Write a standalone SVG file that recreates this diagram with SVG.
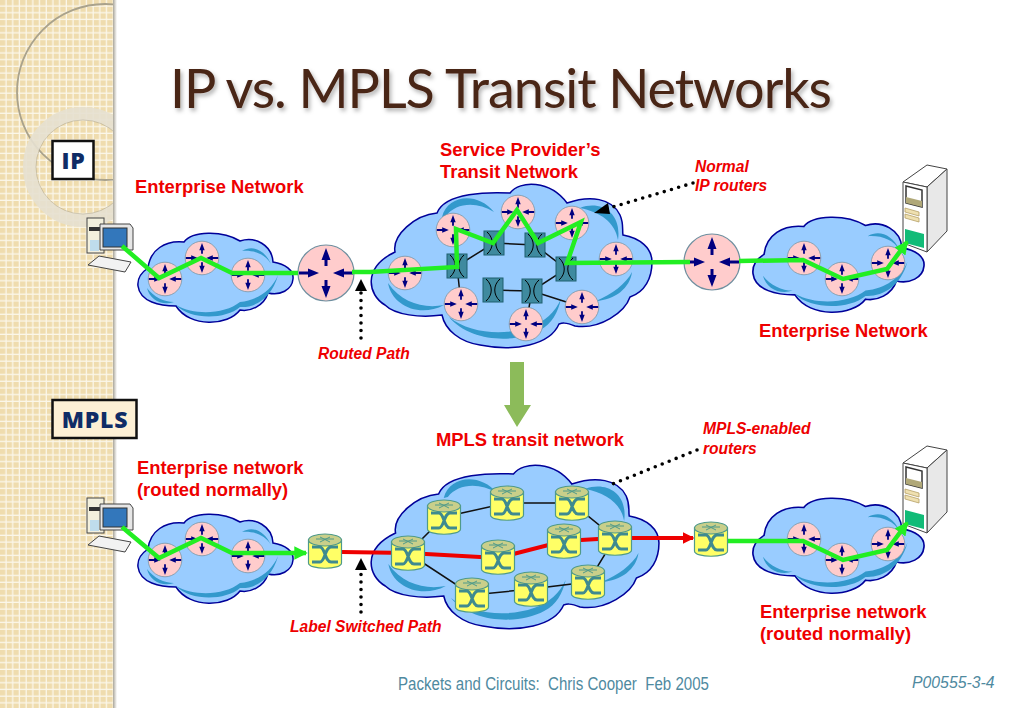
<svg xmlns="http://www.w3.org/2000/svg" width="1023" height="708" viewBox="0 0 1023 708">
<style>
.lab{font-family:"Liberation Sans",Arial,sans-serif;font-weight:bold;fill:#ee0000;font-size:18.4px}
.note{font-family:"Liberation Sans",Arial,sans-serif;font-weight:bold;font-style:italic;fill:#ee0000;font-size:15.6px}
.tag{font-family:"Open Sans",sans-serif;font-weight:800;fill:#0f2c66;font-size:23px;text-anchor:middle;letter-spacing:.8px}
.cloud{fill:#99ccff;stroke:#000099;stroke-width:1.5}
.sw{fill:#3399cc;stroke:none}
.lnk{fill:none;stroke:#111;stroke-width:1.5}
.grn{fill:none;stroke:#22ee22;stroke-width:4.5;stroke-linejoin:miter}
.red{fill:none;stroke:#ee0000;stroke-width:4}
.dot{fill:none;stroke:#000;stroke-width:3.600;stroke-dasharray:0 7.500;stroke-linecap:round}
</style>
<defs>
<pattern id="grid" width="6.7" height="6.7" patternUnits="userSpaceOnUse">
<rect width="6.7" height="6.7" fill="#fbf7ea"/><rect width="5.4" height="5.4" fill="#efdcae"/>
</pattern>
<linearGradient id="edge"><stop offset="0" stop-color="#aaa69a"/><stop offset="1" stop-color="#fff"/></linearGradient>
<clipPath id="pane"><rect width="113" height="708"/></clipPath>
<filter id="sh" x="-5%" y="-20%" width="110%" height="150%"><feDropShadow dx="2" dy="3" stdDeviation="2" flood-color="#000" flood-opacity=".3"/></filter>
<marker id="ga" markerWidth="4" markerHeight="4" refX="2.6" refY="1.500" orient="auto" markerUnits="strokeWidth"><path d="M0,0L3,1.500L0,3Z" fill="#22ee22"/></marker>
<marker id="ra" markerWidth="4" markerHeight="4" refX="2.6" refY="1.500" orient="auto" markerUnits="strokeWidth"><path d="M0,0L3,1.500L0,3Z" fill="#ee0000"/></marker>
<g id="rt">
<circle r="28" fill="#ffcccc" stroke="#6f8f9f" stroke-width="1.2"/>
<g fill="#000080" stroke="#000080">
<path d="M-27,0H-14M27,0H14M0,-7V-19M0,7V19" stroke-width="3" fill="none"/>
<path d="M-7,0L-18,-4.5V4.5ZM7,0L18,-4.5V4.5ZM0,-25L-4.5,-13H4.5ZM0,25L-4.5,13H4.5Z" stroke="none"/>
</g>
</g>
<g id="sq">
<rect x="-10" y="-12" width="20" height="24" fill="#3f8a9f" stroke="#1f5f6f"/>
<path d="M-7,-11C0,-5 0,5 -7,11M7,-11C0,-5 0,5 7,11" fill="none" stroke="#000" stroke-width="1"/>
</g>
<g id="cy">
<path d="M-16.500,-11V12C-16.500,19 16.500,19 16.500,12V-11Z" fill="#ffff66" stroke="#4f9a8a" stroke-width="1.2"/>
<ellipse cy="-11" rx="16.500" ry="6" fill="#c9cf8a" stroke="#4f9a8a" stroke-width="1.2"/>
<path d="M-9,-12H9M-5,-9L5,-14M-5,-14L5,-9" stroke="#4f9a8a" fill="none"/>
<path d="M-13,-4H-5C0,-4 0,11 6,11H13M-13,11H-5C0,11 0,-4 6,-4H13" stroke="#3f8a8f" stroke-width="3" fill="none"/>
</g>
<g id="smallcloud">
<path class="cloud" d="M148,268C150,250 165,240 184,242C192,231 222,230 240,241C255,236 272,245 273,262C285,264 294,270 293,279C292,290 280,296 268,293C264,306 250,312 240,310C228,326 190,328 176,306C160,306 140,302 138,286C137,277 142,272 148,268Z"/>
<path class="sw" d="M147,288C150,300 162,306 174,302C164,302 154,297 147,288ZM176,305C190,320 225,320 240,307C255,308 272,298 278,275C272,290 258,300 240,302C225,314 195,316 176,305ZM242,251C252,245 264,249 271,264C265,254 254,250 242,251Z"/>
</g>
<g id="bigcloud">
<path class="cloud" d="M395,252C392,235 415,215 437,213C445,192 490,192 510,193C520,180 550,180 567,203C590,195 612,198 620,215C624,224 622,230 623,235C640,238 652,248 652,262C652,278 645,292 630,297C625,312 600,330 575,326C565,322 562,323 559,324C550,345 515,352 480,345C460,342 445,330 442,315C420,318 395,315 385,305C368,295 362,268 395,252Z"/>
<path class="sw" d="M442,217C448,194 478,192 494,212C476,201 456,203 446,216ZM388,283C392,306 420,318 444,305C424,309 402,303 388,283ZM449,317C470,342 515,344 540,330C552,324 558,312 561,299C555,312 545,322 530,327C505,336 470,334 449,317ZM596,301C615,300 630,288 632,272C626,284 612,294 596,301ZM580,208C600,200 622,212 618,240C615,222 600,212 580,208Z"/>
</g>
<g id="pc">
<rect x="87" y="218" width="17" height="35" fill="#f3f0dd" stroke="#444"/>
<rect x="89" y="227" width="12" height="4" fill="#333"/>
<rect x="90" y="240" width="9" height="11" fill="#bfdcec"/>
<path d="M100,224H130L133,228V250H100Z" fill="#e6e6e6" stroke="#444"/>
<rect x="103" y="228" width="24" height="19" fill="#3377bb" stroke="#333"/>
<path d="M88,265L99,256L131,262L125,272Z" fill="#f2f2f2" stroke="#444"/>
</g>
<g id="srv">
<path d="M903,182L927,165L947,169L927,187Z" fill="#fff" stroke="#444"/>
<path d="M927,187L947,169V231L927,252Z" fill="#e8e8e8" stroke="#444"/>
<path d="M903,182L927,187V252L903,243Z" fill="#fff" stroke="#444"/>
<path d="M906,186L922,190V207L906,203Z" fill="#fff" stroke="#333" stroke-width="1.5"/>
<path d="M906,197L922,201V207L906,203Z" fill="#b0a878"/>
<path d="M905,208L919,212V216L905,212ZM905,214L919,218V222L905,218Z" fill="#efe0b0" stroke="#b59f66" stroke-width=".8"/>
<path d="M905,229L924,234V248L905,243Z" fill="#11bb77"/>
</g>
</defs>

<rect width="1023" height="708" fill="#fff"/>
<rect id="panel" width="113" height="708" fill="url(#grid)"/>
<rect x="113" width="4" height="708" fill="url(#edge)"/>
<g clip-path="url(#pane)" fill="none">
<circle cx="105" cy="92" r="88" stroke="#a9a28c" stroke-width="1.8"/>
<circle cx="83" cy="167" r="53.500" stroke="#e6e0d0" stroke-opacity=".9" stroke-width="13"/>
<circle cx="83" cy="167" r="47" stroke="#a9a28c" stroke-opacity=".5"/>
</g>

<text x="170" y="108" textLength="662" lengthAdjust="spacing" filter="url(#sh)" style="font-family:Lato,sans-serif;font-size:54px;fill:#4a2618">IP vs. MPLS Transit Networks</text>

<g id="tag-ip"><rect x="52.500" y="141" width="41" height="38" fill="#fff" stroke="#111" stroke-width="2.500"/><text class="tag" x="73.500" y="168.500">IP</text></g>
<g id="tag-mpls"><rect x="52.500" y="400" width="84" height="38" fill="#fdf0d5" stroke="#111" stroke-width="2.500"/><text class="tag" x="95" y="428">MPLS</text></g>

<g id="clouds">
<use id="cloud-ip-left" href="#smallcloud"/>
<use id="cloud-mpls-left" href="#smallcloud" y="281"/>
<use id="cloud-ip-right" href="#smallcloud" transform="translate(753,218) scale(1.103,1.068) translate(-138,-234)"/>
<use id="cloud-mpls-right" href="#smallcloud" transform="translate(753,499) scale(1.103,1.068) translate(-138,-234)"/>
<use id="cloud-ip-core" href="#bigcloud"/>
<use id="cloud-mpls-core" href="#bigcloud" transform="translate(373,281) scale(1.025,1) translate(-373,0)"/>
</g>

<g id="links">
<path class="lnk" d="M457,266L494,243L535,245L566,269L532,291L493,290M457,266L461,304M532,291L582,307M532,291L526,324"/>
<path class="lnk" d="M408,553L444,517L507,503L572,503L615,538L588,582L531,589L472,595L408,553"/>
</g>

<g id="ip-nodes">
<use id="r1" href="#rt" transform="translate(165,279) scale(.6)"/>
<use id="r2" href="#rt" transform="translate(202,258) scale(.6)"/>
<use id="r3" href="#rt" transform="translate(248,275) scale(.6)"/>
<use id="r4" href="#rt" transform="translate(326,273)"/>
<use id="r5" href="#rt" transform="translate(405,273) scale(.6)"/>
<use id="r6" href="#rt" transform="translate(453,230) scale(.6)"/>
<use id="r7" href="#rt" transform="translate(518,212) scale(.6)"/>
<use id="r8" href="#rt" transform="translate(572,223) scale(.6)"/>
<use id="r9" href="#rt" transform="translate(616,259) scale(.6)"/>
<use id="r10" href="#rt" transform="translate(461,304) scale(.6)"/>
<use id="r11" href="#rt" transform="translate(526,324) scale(.6)"/>
<use id="r12" href="#rt" transform="translate(582,307) scale(.6)"/>
<use id="r13" href="#rt" transform="translate(712,262)"/>
<use id="r14" href="#rt" transform="translate(804,258) scale(.6)"/>
<use id="r15" href="#rt" transform="translate(842,279) scale(.6)"/>
<use id="r16" href="#rt" transform="translate(888,263) scale(.6)"/>
<use id="s1" href="#sq" x="457" y="266"/>
<use id="s2" href="#sq" x="494" y="243"/>
<use id="s3" href="#sq" x="535" y="245"/>
<use id="s4" href="#sq" x="566" y="269"/>
<use id="s5" href="#sq" x="493" y="290"/>
<use id="s6" href="#sq" x="532" y="291"/>
<use id="pc-ip" href="#pc"/>
<use id="srv-ip" href="#srv"/>
</g>

<g id="mpls-nodes">
<use id="m1" href="#rt" transform="translate(165,560) scale(.6)"/>
<use id="m2" href="#rt" transform="translate(202,539) scale(.6)"/>
<use id="m3" href="#rt" transform="translate(248,556) scale(.6)"/>
<use id="m4" href="#rt" transform="translate(804,539) scale(.6)"/>
<use id="m5" href="#rt" transform="translate(842,560) scale(.6)"/>
<use id="m6" href="#rt" transform="translate(888,544) scale(.6)"/>
<use id="pc-mpls" href="#pc" y="280"/>
<use id="srv-mpls" href="#srv" y="281"/>
</g>

<g id="connectors">
<path class="grn" d="M122,246L159,278L201,258L232,273H298"/>
<path class="grn" d="M352,272H370L457,267L456,229L493,243L517,210L538,243L581,222L567,263L690,262"/>
<path class="grn" marker-end="url(#ga)" d="M739,261L803,260L843,279L887,269L907,242"/>
<path class="red" marker-end="url(#ra)" d="M342,552L408,553L498,558L564,541L615,538H693"/>
<path class="grn" marker-end="url(#ga)" d="M122,527L159,558L201,538L232,553H306"/>
<path class="grn" marker-end="url(#ga)" d="M727,541L803,541L843,560L887,550L907,523"/>
<path class="dot" d="M693,183L606,209"/>
<path d="M594,213L608,203L610,214Z"/>
<path class="dot" d="M361,338V292"/>
<path d="M361,279L355,291H367Z"/>
<path class="dot" d="M361,612V571"/>
<path d="M361,558L355,570H367Z"/>
<path class="dot" d="M697,450L610,485"/>
<path d="M510,362H524V405H531L517,427L504,405H510Z" fill="#8cbb5a"/>
</g>

<g id="mpls-lsr">
<use href="#cy" x="325" y="551"/>
<use href="#cy" x="711" y="539"/>
<use href="#cy" x="408" y="553"/>
<use href="#cy" x="444" y="517"/>
<use href="#cy" x="507" y="503"/>
<use href="#cy" x="572" y="503"/>
<use href="#cy" x="564" y="541"/>
<use href="#cy" x="615" y="538"/>
<use href="#cy" x="498" y="557"/>
<use href="#cy" x="472" y="595"/>
<use href="#cy" x="531" y="589"/>
<use href="#cy" x="588" y="582"/>
</g>

<g id="labels">
<text class="lab" x="440" y="156">Service Provider’s</text>
<text class="lab" x="440" y="178">Transit Network</text>
<text class="lab" x="135" y="193">Enterprise Network</text>
<text class="note" x="695" y="172">Normal</text>
<text class="note" x="695" y="191">IP routers</text>
<text class="note" x="318" y="359">Routed Path</text>
<text class="lab" x="759" y="337">Enterprise Network</text>
<text class="lab" x="436" y="446">MPLS transit network</text>
<text class="note" x="703" y="434">MPLS-enabled</text>
<text class="note" x="703" y="454">routers</text>
<text class="lab" x="137" y="474">Enterprise network</text>
<text class="lab" x="137" y="496">(routed normally)</text>
<text class="note" x="290" y="632">Label Switched Path</text>
<text class="lab" x="760" y="618">Enterprise network</text>
<text class="lab" x="760" y="640">(routed normally)</text>
<text x="398" y="690" textLength="311" lengthAdjust="spacingAndGlyphs" xml:space="preserve" style="font-family:'Liberation Sans',sans-serif;font-size:17.5px;fill:#4f8a9f">Packets and Circuits:  Chris Cooper  Feb 2005</text>
<text x="912" y="688" style="font-family:'Liberation Sans',sans-serif;font-style:italic;font-size:15.8px;fill:#4f8a9f">P00555-3-4</text>
</g>
</svg>
